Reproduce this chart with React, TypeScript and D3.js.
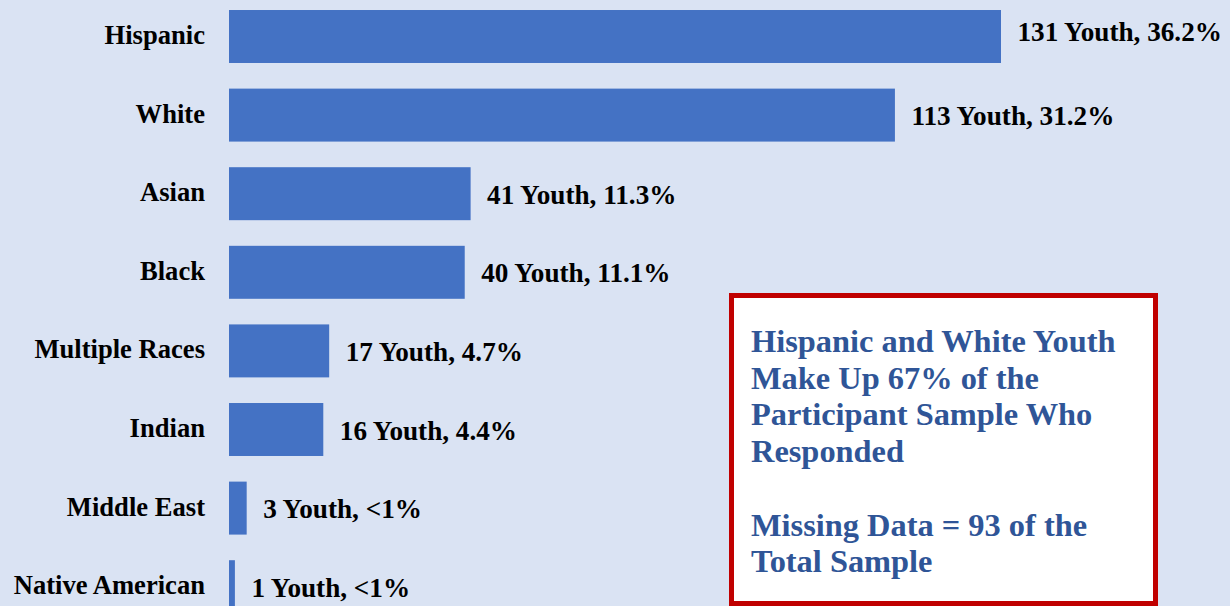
import React from "react";
import * as d3 from "d3";

const categories = ["Hispanic", "White", "Asian", "Black", "Multiple Races", "Indian", "Middle East", "Native American"];
const counts = [131, 113, 41, 40, 17, 16, 3, 1];
const valueLabels = ["131 Youth, 36.2%", "113 Youth, 31.2%", "41 Youth, 11.3%", "40 Youth, 11.1%", "17 Youth, 4.7%", "16 Youth, 4.4%", "3 Youth, <1%", "1 Youth, <1%"];
const noteLines = ["Hispanic and White Youth", "Make Up 67% of the", "Participant Sample Who", "Responded", "", "Missing Data = 93 of the", "Total Sample"];

const W = 1230;
const H = 606;

export default function App() {
  const x = d3.scaleLinear().domain([0, 131]).range([229, 1001]);
  const y = d3.scaleBand<string>().domain(categories).range([-2.8, 626]).paddingInner(0.326).paddingOuter(0.163);
  const font = "'Liberation Serif', 'Times New Roman', serif";
  return (
    <svg width={W} height={H} style={{ position: "absolute", left: 0, top: 0, display: "block" }} fontFamily={font}>
      <rect x={0} y={0} width={W} height={H} fill="#dae3f3" />
      {categories.map((c, i) => {
        const yy = y(c) as number;
        const cy = yy + y.bandwidth() / 2;
        const vdy = i === 0 ? 4.5 : 10;
        return (
          <g key={c}>
            <rect x={x(0)} y={yy} width={x(counts[i]) - x(0)} height={y.bandwidth()} fill="#4472c4" />
            <text x={205} y={cy + 7.5} textAnchor="end" fontSize={26.6} fontWeight="bold" fill="#000">{c}</text>
            <text x={x(counts[i]) + 16.5} y={cy + vdy} fontSize={27.2} fontWeight="bold" fill="#000">{valueLabels[i]}</text>
          </g>
        );
      })}
      <rect x={731.5} y={295.5} width={424} height={308} fill="#fff" stroke="#c00000" strokeWidth={5} />
      {noteLines.map((l, i) => (
        <text key={i} x={751} y={352 + i * 36.7} fontSize={32.4} fontWeight="bold" fill="#2f5597">{l}</text>
      ))}
    </svg>
  );
}
